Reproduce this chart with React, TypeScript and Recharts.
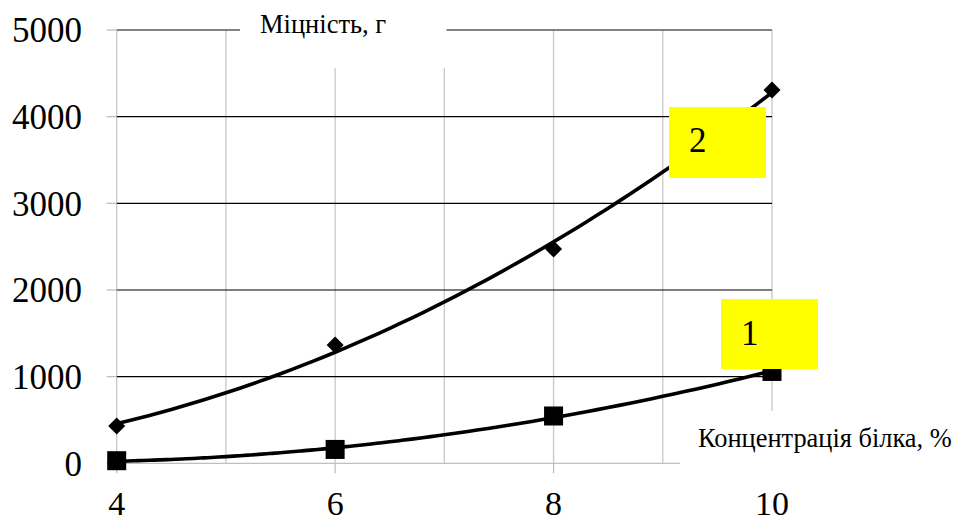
import React from "react";
import {
  ComposedChart,
  Line,
  Scatter,
  XAxis,
  YAxis,
  CartesianGrid,
} from "recharts";

// Protein concentration, % (x) and gel strength, g (y)
const CONCENTRATION = [4, 6, 8, 10];
const STRENGTH_1 = [30, 160, 546, 1060];
const STRENGTH_2 = [430, 1365, 2472, 4307];

const X_TICKS = [4, 6, 8, 10];
const X_GRID = [4, 5, 6, 7, 8, 9, 10];
const Y_TICKS = [0, 1000, 2000, 3000, 4000, 5000];
const Y_GRID_INNER = [1000, 2000, 3000, 4000];

const TITLE = "Міцність, г";
const X_TITLE = "Концентрація білка, %";
const SERIES_LABELS = ["1", "2"];

const FONT = "Liberation Serif";
const W = 958;
const H = 522;

// Quadratic least-squares trendline through the measured points
function fitQuadratic(xs: number[], ys: number[]) {
  let s0 = 0, s1 = 0, s2 = 0, s3 = 0, s4 = 0, t0 = 0, t1 = 0, t2 = 0;
  xs.forEach((x, i) => {
    const y = ys[i];
    s0 += 1; s1 += x; s2 += x * x; s3 += x ** 3; s4 += x ** 4;
    t0 += y; t1 += x * y; t2 += x * x * y;
  });
  const m = [
    [s0, s1, s2, t0],
    [s1, s2, s3, t1],
    [s2, s3, s4, t2],
  ];
  for (let c = 0; c < 3; c++) {
    for (let r = c + 1; r < 3; r++) {
      const f = m[r][c] / m[c][c];
      for (let k = c; k < 4; k++) m[r][k] -= f * m[c][k];
    }
  }
  const coef = [0, 0, 0];
  for (let r = 2; r >= 0; r--) {
    let s = m[r][3];
    for (let k = r + 1; k < 3; k++) s -= m[r][k] * coef[k];
    coef[r] = s / m[r][r];
  }
  return (x: number) => coef[0] + coef[1] * x + coef[2] * x * x;
}

const trend1 = fitQuadratic(CONCENTRATION, STRENGTH_1);
const trend2 = fitQuadratic(CONCENTRATION, STRENGTH_2);
const xMin = CONCENTRATION[0];
const xMax = CONCENTRATION[CONCENTRATION.length - 1];
const trendRows = Array.from({ length: 61 }, (_, i) => {
  const x = xMin + ((xMax - xMin) * i) / 60;
  return { x, t1: trend1(x), t2: trend2(x) };
});

const points1 = CONCENTRATION.map((x, i) => ({ x, y: STRENGTH_1[i] }));
const points2 = CONCENTRATION.map((x, i) => ({ x, y: STRENGTH_2[i] }));

const Diamond = (p: any) => {
  const { cx, cy } = p;
  const r = 8.5;
  return (
    <polygon
      points={`${cx},${cy - r} ${cx + r},${cy} ${cx},${cy + r} ${cx - r},${cy}`}
      fill="#000"
    />
  );
};

const Square = (p: any) => {
  const { cx, cy } = p;
  return <rect x={cx - 9.5} y={cy - 9.5} width={19} height={19} fill="#000" />;
};

const textStyle = { fontFamily: FONT };

export default function App() {
  return (
    <div
      style={{
        position: "absolute",
        left: 0,
        top: 0,
        width: W,
        height: H,
        background: "#fff",
        fontFamily: FONT,
      }}
    >
      <ComposedChart
        width={W}
        height={H}
        data={trendRows}
        margin={{ top: 30, right: 186, left: 0, bottom: 0 }}
        style={textStyle}
      >
        <CartesianGrid horizontal={false} verticalValues={X_GRID} stroke="#c8c8c8" strokeWidth={1.3} />
        <CartesianGrid vertical={false} horizontalValues={Y_GRID_INNER} stroke="#000" strokeWidth={1.2} />
        <CartesianGrid vertical={false} horizontalValues={[0]} stroke="#bfbfbf" strokeWidth={1.3} />
        <CartesianGrid vertical={false} horizontalValues={[5000]} stroke="#595959" strokeWidth={1.6} />
        <XAxis
          dataKey="x"
          type="number"
          domain={[4, 10]}
          ticks={X_TICKS}
          height={58.7}
          axisLine={false}
          tickSize={10}
          tickMargin={17.5}
          tickLine={{ stroke: "#bfbfbf", strokeWidth: 1.3 }}
          tick={{ fill: "#000", fontSize: 34, style: textStyle }}
        />
        <YAxis
          type="number"
          domain={[0, 5000]}
          ticks={Y_TICKS}
          width={116.7}
          axisLine={false}
          tickSize={10}
          tickMargin={24.7}
          tickLine={{ stroke: "#bfbfbf", strokeWidth: 1.3 }}
          tick={{ fill: "#000", fontSize: 35, style: textStyle }}
        />
        <Line
          dataKey="t2"
          type="monotone"
          stroke="#000"
          strokeWidth={3.6}
          dot={false}
          activeDot={false}
          isAnimationActive={false}
        />
        <Line
          dataKey="t1"
          type="monotone"
          stroke="#000"
          strokeWidth={3.6}
          dot={false}
          activeDot={false}
          isAnimationActive={false}
        />
        <Scatter data={points2} dataKey="y" shape={Diamond} isAnimationActive={false} />
        <Scatter data={points1} dataKey="y" shape={Square} isAnimationActive={false} />
      </ComposedChart>
      <svg
        width={W}
        height={H}
        style={{ position: "absolute", left: 0, top: 0, pointerEvents: "none", ...textStyle }}
      >
        {/* chart title */}
        <rect x={240} y={10} width={206.5} height={58} fill="#fff" />
        <text x={260} y={33} fontSize={26.5} fill="#000" style={textStyle}>
          {TITLE}
        </text>
        {/* axis title */}
        <rect x={680} y={411} width={278} height={65} fill="#fff" />
        <text x={698} y={447} fontSize={26.4} fill="#000" style={textStyle}>
          {X_TITLE}
        </text>
        {/* series labels */}
        <rect x={669} y={107} width={97} height={71} fill="#ffff00" />
        <text x={689} y={152} fontSize={35} fill="#000" style={textStyle}>
          {SERIES_LABELS[1]}
        </text>
        <rect x={721} y={299} width={97} height={70} fill="#ffff00" />
        <text x={741} y={345} fontSize={35} fill="#000" style={textStyle}>
          {SERIES_LABELS[0]}
        </text>
      </svg>
    </div>
  );
}
